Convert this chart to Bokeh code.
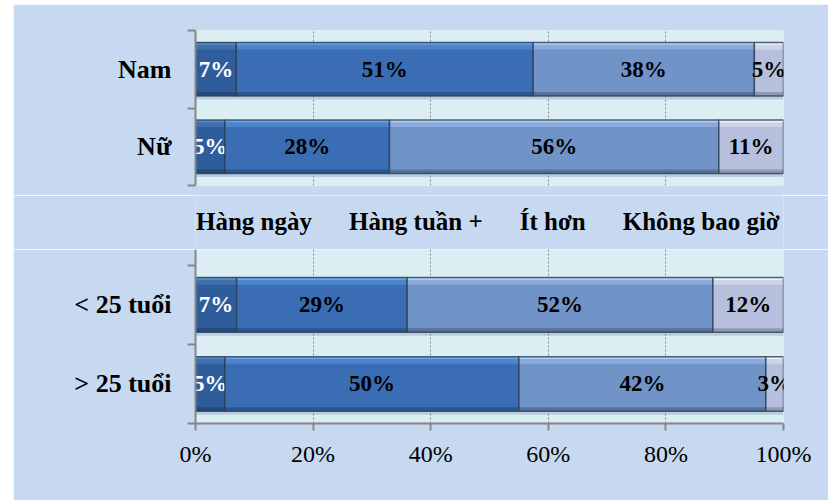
import numpy as np
from bokeh.plotting import figure
from bokeh.layouts import column
from bokeh.models import Range1d, FixedTicker, NumeralTickFormatter, Legend, LegendItem
from bokeh.core.properties import value
from bokeh.embed import file_html
from bokeh.resources import INLINE

# ---- data ----
series = ["Hàng ngày", "Hàng tuần +", "Ít hơn", "Không bao giờ"]
gender_cats = ["Nam", "Nữ"]
nam = [7, 51, 38, 5]
nu = [5, 28, 56, 11]
age_cats = ["< 25 tuổi", "> 25 tuổi"]
under25 = [7, 29, 52, 12]
over25 = [5, 50, 42, 3]
x_ticks = [0, 0.2, 0.4, 0.6, 0.8, 1.0]

# ---- style ----
BG = "#c6d9f0"
PLOT_BG = "#dbeef4"
GRAY = "#868686"
SERIF = "Liberation Serif"
base = ["#2f5d9b", "#3a6db4", "#7093c8", "#b6c0dc"]
hi = ["#5a8ccc", "#6aa6ea", "#b3d0f4", "#eef2fa"]
mid = ["#3f6fad", "#4d84cc", "#8aaadb", "#cdd5ea"]
lo = ["#24497a", "#2b568f", "#56719c", "#8f99b5"]
txt = ["white", "black", "black", "black"]
EDGE = "#2c3e58"
BH = 0.69
W = 815
LEFT = 182
RIGHT = 45


def draw_panel(p, rows):
    y = np.array([1.0, 0.0])
    vals = np.array(rows, dtype=float)
    fr = vals / vals.sum(axis=1, keepdims=True)
    cum = np.cumsum(fr, axis=1)
    p.hbar(y=y - 0.045, left=0, right=cum[:, -1], height=BH, fill_color="#8fa6b8",
           fill_alpha=0.45, line_color=None)
    for i in range(len(series)):
        left = cum[:, i] - fr[:, i]
        right = cum[:, i]
        p.hbar(y=y, left=left, right=right, height=BH, fill_color=base[i], line_color=None)
        top = y + BH / 2
        p.hbar(y=top - 0.055, left=left, right=right, height=0.07, fill_color=mid[i], line_color=None)
        p.hbar(y=top - 0.015, left=left, right=right, height=0.03, fill_color=hi[i], line_color=None)
        bot = y - BH / 2
        p.hbar(y=bot + 0.025, left=left, right=right, height=0.05, fill_color=lo[i], line_color=None)
        p.hbar(y=y, left=left, right=right, height=BH, fill_color=None, line_color=EDGE,
               line_width=1.5, line_alpha=0.8)
        labels = [f"{int(v)}%" for v in vals[:, i]]
        p.text(x=(left + right) / 2, y=y, text=labels, text_color=txt[i],
               text_font=value(SERIF), text_font_style="bold", text_font_size="23px",
               text_align="center", text_baseline="middle")


def make_fig(height, yr, cats, mbt, mbb, margin):
    p = figure(width=W, height=height, x_range=Range1d(0, 1), y_range=Range1d(*yr),
               output_backend="svg", toolbar_location=None,
               min_border_left=LEFT, min_border_right=RIGHT,
               min_border_top=mbt, min_border_bottom=mbb)
    p.margin = margin
    p.border_fill_color = BG
    p.background_fill_color = PLOT_BG
    p.outline_line_color = None
    p.ygrid.visible = False
    p.xgrid.ticker = FixedTicker(ticks=x_ticks[1:])
    p.xgrid.grid_line_color = GRAY
    p.xgrid.grid_line_dash = "2 2"
    p.xgrid.grid_line_width = 1
    ya = p.yaxis[0]
    ya.ticker = FixedTicker(ticks=[0, 1], minor_ticks=[-0.5, 0.5, 1.5])
    ya.major_label_overrides = {1: cats[0], 0: cats[1]}
    ya.major_tick_line_color = None
    ya.major_tick_out = 0
    ya.major_tick_in = 0
    ya.minor_tick_out = 8
    ya.minor_tick_in = 0
    ya.minor_tick_line_color = GRAY
    ya.minor_tick_line_width = 2
    ya.axis_line_color = GRAY
    ya.axis_line_width = 2
    ya.major_label_standoff = 16
    ya.major_label_text_font = SERIF
    ya.major_label_text_font_style = "bold"
    ya.major_label_text_font_size = "26px"
    ya.major_label_text_color = "black"
    return p


# top panel
p1 = make_fig(191, (-0.5, 1.5), gender_cats, 26, 10, (4, 0, 0, 13))
p1.xaxis.visible = False
draw_panel(p1, [nam, nu])

# legend strip
pm = figure(width=W, height=54, x_range=Range1d(0, 1), y_range=Range1d(0, 1),
            output_backend="svg", toolbar_location=None,
            x_axis_location=None, y_axis_location=None,
            min_border_left=173, min_border_right=0, min_border_top=0, min_border_bottom=0)
pm.margin = (0, 0, 0, 13)
pm.grid.visible = False
pm.border_fill_color = BG
pm.background_fill_color = BG
pm.outline_line_color = None
keys = [pm.hbar(y=[0.5], left=[0], right=[0], height=0.1, fill_color=c, fill_alpha=0,
                line_color=None) for c in base]
legend = Legend(items=[LegendItem(label=s, renderers=[r]) for s, r in zip(series, keys)],
                orientation="horizontal", location="top_left",
                glyph_width=1, glyph_height=1, label_standoff=0, spacing=36,
                padding=0, margin=0, label_height=54,
                border_line_color=None, background_fill_alpha=0,
                label_text_font=SERIF, label_text_font_style="bold",
                label_text_font_size="25px", label_text_color="black")
pm.add_layout(legend)

# bottom panel
p2 = make_fig(251, (-0.5, 1.7), age_cats, 0, 77, (0, 0, 0, 13))
draw_panel(p2, [under25, over25])
xa = p2.xaxis[0]
xa.ticker = FixedTicker(ticks=x_ticks)
xa.formatter = NumeralTickFormatter(format="0%")
xa.axis_line_color = GRAY
xa.axis_line_width = 2
xa.major_tick_line_color = GRAY
xa.major_tick_line_width = 2
xa.major_tick_out = 7
xa.major_tick_in = 0
xa.minor_tick_line_color = None
xa.major_label_standoff = 10
xa.major_label_text_font = SERIF
xa.major_label_text_font_size = "24px"
xa.major_label_text_color = "black"

layout = column(p1, pm, p2, spacing=0)
open("out.html", "w").write(file_html(layout, INLINE))
